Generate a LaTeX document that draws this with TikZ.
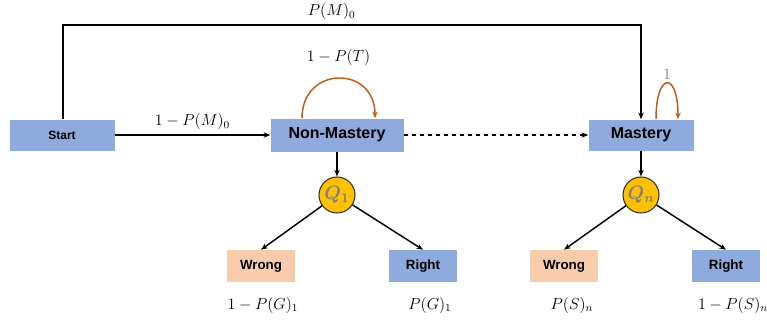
\documentclass[tikz,border=0pt]{standalone}
\usepackage{fontspec}
\usepackage{amsmath,bm}
\newfontfamily\arialfont{Liberation Sans}
\usetikzlibrary{arrows.meta,positioning,calc}
\definecolor{boxblue}{HTML}{8FAADC}
\definecolor{wrongpink}{HTML}{F8CBAD}
\definecolor{qyellow}{HTML}{FFC000}
\definecolor{looporange}{HTML}{C55A11}

\begin{document}
\begin{tikzpicture}[
  x=0.75pt, y=-0.75pt,
  estado/.style={rectangle, fill=boxblue, inner sep=0pt, font=\arialfont\bfseries},
  respuesta/.style={rectangle, inner sep=0pt, minimum width=51pt, minimum height=24pt, font=\arialfont\bfseries\normalsize},
  pregunta/.style={circle, fill=qyellow, draw=black!80, thick, minimum size=27pt, inner sep=0pt, text=black!50, font=\Large},
  flecha/.style={-{Stealth[length=5pt,width=4pt]}, line width=1.1pt},
  bucle/.style={-{Stealth[length=5pt,width=4pt]}, line width=1.1pt, looporange},
  prob/.style={font=\large}
]
\useasboundingbox (0,0) rectangle (767,322);
% estados
\node[estado, minimum width=78.75pt, minimum height=23.25pt, font=\arialfont\bfseries\small] (start) at (62,135) {Start};
\node[estado, minimum width=99.75pt, minimum height=24.75pt, font=\arialfont\bfseries\large] (nonm) at (337,135) {Non-Mastery};
\node[estado, minimum width=78.75pt, minimum height=23.25pt, font=\arialfont\bfseries\large] (mast) at (641,135) {Mastery};
% preguntas
\node[pregunta] (q1) at (337,195) {$\bm{Q_1}$};
\node[pregunta] (qn) at (641,195) {$\bm{Q_n}$};
% respuestas
\node[respuesta, fill=wrongpink] (w1) at (261,266) {Wrong};
\node[respuesta, fill=boxblue] (r1) at (423,266) {Right};
\node[respuesta, fill=wrongpink] (w2) at (564,266) {Wrong};
\node[respuesta, fill=boxblue] (r2) at (726,266) {Right};
% probabilidades
\node[prob] (pw1) at (263,305) {$1-P(G)_1$};
\node[prob] (pr1) at (430,305) {$P(G)_1$};
\node[prob] (pw2) at (572,305) {$P(S)_n$};
\node[prob] (pr2) at (733,305) {$1-P(S)_n$};
% transiciones
\coordinate (tl) at (63,25);
\coordinate (tr) at (641,25);
\draw[flecha] (start.north -| tl) -- (tl) -- node[above, prob, pos=0.465]{$P(M)_0$} (tr) -- (mast.north);
\draw[flecha] (start) -- node[above, prob]{$1-P(M)_0$} (nonm);
\draw[flecha, dashed] (nonm) -- (mast);
\draw[bucle] ($(nonm.north)+(-35,0)$) .. controls ($(nonm.north)+(-35,-53)$) and ($(nonm.north)+(38,-53)$) .. node[above=6pt, prob, text=black]{$1-P(T)$} ($(nonm.north)+(38,0)$);
\draw[bucle] ($(mast.north)+(15,0)$) .. controls ($(mast.north)+(15,-48)$) and ($(mast.north)+(37,-48)$) .. node[above=-1pt, text=black!50, font=\large]{$1$} ($(mast.north)+(37,0)$);
\draw[flecha] (nonm) -- (q1);
\draw[flecha] (mast) -- (qn);
\draw[flecha] (q1) -- (w1.north);
\draw[flecha] (q1) -- (r1.north);
\draw[flecha] (qn) -- (w2.north);
\draw[flecha] (qn) -- (r2.north);
\end{tikzpicture}
\end{document}
